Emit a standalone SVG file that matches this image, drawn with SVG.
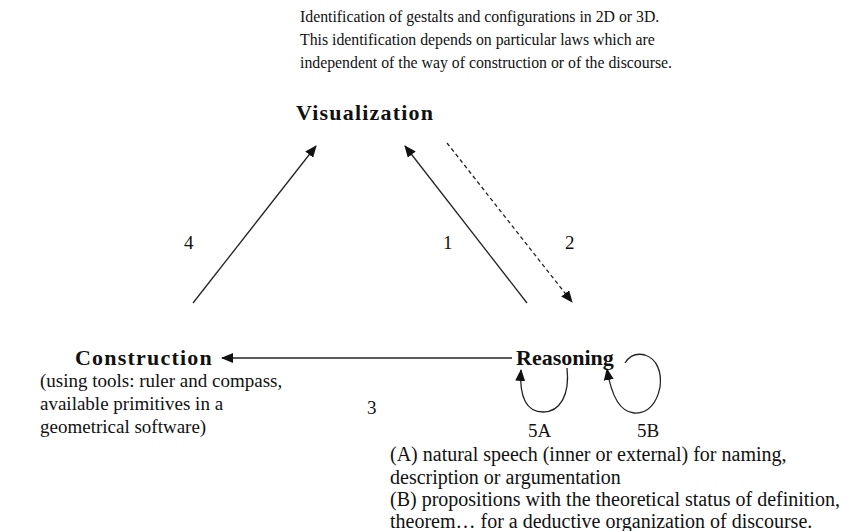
<svg xmlns="http://www.w3.org/2000/svg" width="865" height="531" viewBox="0 0 865 531">
  <style>
    .txt { font-family: "Liberation Serif", "Times New Roman", serif; fill: #111; }
    .top { font-size: 15.8px; }
    .left { font-size: 19px; }
    .right { font-size: 20px; }
    .title { font-size: 22px; font-weight: bold; }
    .num { font-size: 19px; }
    .edge { stroke: #222; stroke-width: 1.3; fill: none; }
    .dash { stroke-dasharray: 4 3; }
  </style>
  <defs>
    <marker id="arrow" viewBox="0 0 12 10" refX="11" refY="5" markerWidth="12" markerHeight="10" markerUnits="userSpaceOnUse" orient="auto">
      <path d="M0,0 L12,5 L0,10 Z" fill="#111"/>
    </marker>
  </defs>

  <rect width="865" height="531" fill="#fff"/>

  <!-- caption above Visualization -->
  <g id="visualization-note" class="txt top">
    <text x="300" y="22">Identification of gestalts and configurations in 2D or 3D.</text>
    <text x="300" y="45">This identification depends on particular laws which are</text>
    <text x="300" y="68">independent of the way of construction or of the discourse.</text>
  </g>

  <g id="visualization">
    <text class="txt title" x="296" y="120" letter-spacing="1.2">Visualization</text>
  </g>

  <g id="construction">
    <text class="txt title" x="75" y="365" letter-spacing="1.2">Construction</text>
  </g>
  <g id="construction-note" class="txt left">
    <text x="40" y="387">(using tools: ruler and compass,</text>
    <text x="40" y="410">available primitives in a</text>
    <text x="40" y="433">geometrical software)</text>
  </g>

  <g id="reasoning">
    <text class="txt title" x="516" y="365">Reasoning</text>
  </g>
  <g id="reasoning-note" class="txt right">
    <text x="390" y="461">(A) natural speech (inner or external) for naming,</text>
    <text x="390" y="484">description or argumentation</text>
    <text x="390" y="506">(B) propositions with the theoretical status of definition,</text>
    <text x="390" y="528">theorem… for a deductive organization of discourse.</text>
  </g>

  <!-- connectors -->
  <g id="connectors">
    <line class="edge" x1="193" y1="303" x2="316" y2="146" marker-end="url(#arrow)"/>
    <line class="edge" x1="527" y1="303" x2="405" y2="146" marker-end="url(#arrow)"/>
    <line class="edge dash" x1="447" y1="143" x2="572" y2="302" marker-end="url(#arrow)"/>
    <line class="edge" x1="512" y1="358" x2="222" y2="358" marker-end="url(#arrow)"/>
    <!-- 5A loop -->
    <path class="edge" d="M567,368 C570,395 560,412 543,412 C527,412 519,398 521,370" marker-end="url(#arrow)"/>
    <!-- 5B loop -->
    <path class="edge" d="M625,363 C630,355 637,353 645,355 C657,359 662,372 660,387 C657,403 648,414 634,413 C622,412 612,400 607,369" marker-end="url(#arrow)"/>
  </g>

  <g id="labels" class="txt num">
    <text x="184" y="249">4</text>
    <text x="443" y="249">1</text>
    <text x="565" y="249">2</text>
    <text x="367" y="414">3</text>
    <text x="528" y="437">5A</text>
    <text x="637" y="437">5B</text>
  </g>
</svg>
